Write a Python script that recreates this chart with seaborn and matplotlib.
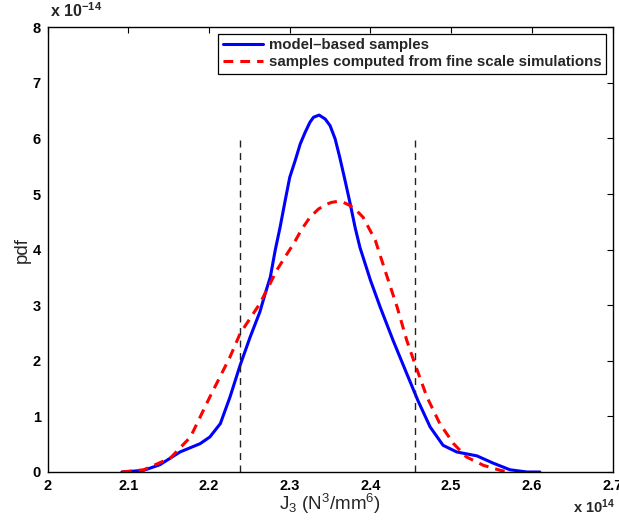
import numpy as np
import pandas as pd
import matplotlib
matplotlib.use('Agg')
import matplotlib.pyplot as plt
import seaborn as sns

# curve values (x in units of 1e14, pdf in units of 1e-14)
model_x = [2.092, 2.119, 2.139, 2.164, 2.189, 2.201, 2.214, 2.226, 2.2385, 2.251,
           2.263, 2.2696, 2.276, 2.282, 2.288, 2.2943, 2.300, 2.3067, 2.313, 2.3191,
           2.325, 2.3294, 2.3364, 2.3439, 2.350, 2.3563, 2.362, 2.3686, 2.375, 2.381,
           2.387, 2.400, 2.412, 2.428, 2.445, 2.459, 2.474, 2.490, 2.507, 2.532,
           2.552, 2.573, 2.594, 2.610]
model_pdf = [0.0, 0.03, 0.13, 0.36, 0.51, 0.63, 0.87, 1.35, 1.92, 2.43,
             2.88, 3.21, 3.51, 3.99, 4.40, 4.88, 5.30, 5.60, 5.90, 6.11,
             6.29, 6.38, 6.42, 6.35, 6.23, 5.99, 5.66, 5.24, 4.82, 4.40,
             4.04, 3.45, 2.97, 2.37, 1.77, 1.28, 0.81, 0.48, 0.36, 0.29,
             0.16, 0.04, 0.0, 0.0]

fine_x = [2.092, 2.119, 2.152, 2.177, 2.201, 2.226, 2.2385, 2.263, 2.2736, 2.284,
          2.2943, 2.305, 2.315, 2.325, 2.3356, 2.346, 2.352, 2.360, 2.3666, 2.375,
          2.383, 2.391, 2.406, 2.418, 2.433, 2.445, 2.455, 2.470, 2.486, 2.503,
          2.519, 2.540, 2.561, 2.571]
fine_pdf = [0.0, 0.04, 0.25, 0.63, 1.35, 2.07, 2.49, 3.03, 3.33, 3.63,
            3.87, 4.11, 4.37, 4.58, 4.73, 4.82, 4.85, 4.87, 4.85, 4.79,
            4.70, 4.58, 4.17, 3.63, 2.97, 2.37, 1.95, 1.35, 0.87, 0.51,
            0.27, 0.12, 0.03, 0.0]

bounds_x = [2.2385, 2.4555]
bounds_top = 6.0

xticks = [2, 2.1, 2.2, 2.3, 2.4, 2.5, 2.6, 2.7]
yticks = [0, 1, 2, 3, 4, 5, 6, 7, 8]

sns.set_style('white')
plt.rcParams['font.family'] = ['Liberation Sans', 'DejaVu Sans']
plt.rcParams['mathtext.default'] = 'regular'

model_df = pd.DataFrame({'x': model_x, 'pdf': model_pdf})
fine_df = pd.DataFrame({'x': fine_x, 'pdf': fine_pdf})

fig = plt.figure(figsize=(6.19, 5.22), dpi=100)
ax = fig.add_axes([0.077, 0.0958, 0.9125, 0.852])

sns.lineplot(data=model_df, x='x', y='pdf', ax=ax, color='#0000ff', linewidth=2.2,
             label='model\u2013based samples', sort=False)
sns.lineplot(data=fine_df, x='x', y='pdf', ax=ax, color='#ff0000', linewidth=2.2,
             linestyle=(0, (3.2, 2.3)), label='samples computed from fine scale simulations',
             sort=False)
for bx in bounds_x:
    ax.plot([bx, bx], [0, bounds_top], color='#222222', linewidth=1.0,
            linestyle=(0, (5, 4)))

ax.set_xlim(2, 2.7)
ax.set_ylim(0, 8)
ax.set_xticks(xticks)
ax.set_yticks(yticks)
ax.set_xticklabels(['%g' % t for t in xticks], fontsize=10.5, fontweight='bold')
ax.set_yticklabels(['%g' % t for t in yticks], fontsize=10.5, fontweight='bold')
ax.tick_params(direction='in', length=4, width=0.8, top=True, right=True, pad=5,
               colors='black')
for s in ax.spines.values():
    s.set_visible(True)
    s.set_color('black')
    s.set_linewidth(1.0)

ax.set_xlabel('J$_3$ (N$^3$/mm$^6$)', fontsize=13.5, labelpad=-1)
ax.set_ylabel('pdf', fontsize=13.5, labelpad=1)

fig.text(0.081, 0.962, 'x 10$^{-14}$', fontsize=11.5, fontweight='bold', ha='left', va='bottom')
fig.text(0.993, 0.012, 'x 10$^{14}$', fontsize=10.5, fontweight='bold', ha='right', va='bottom')

leg = ax.legend(loc='upper right', prop={'weight': 'bold', 'size': 10.8},
                frameon=True, fancybox=False, framealpha=1, edgecolor='black',
                handlelength=2.7, borderaxespad=0.45, borderpad=0.3, labelspacing=0.2,
                handletextpad=0.35)
leg.get_frame().set_linewidth(0.9)

fig.savefig('out.png', dpi=100)
